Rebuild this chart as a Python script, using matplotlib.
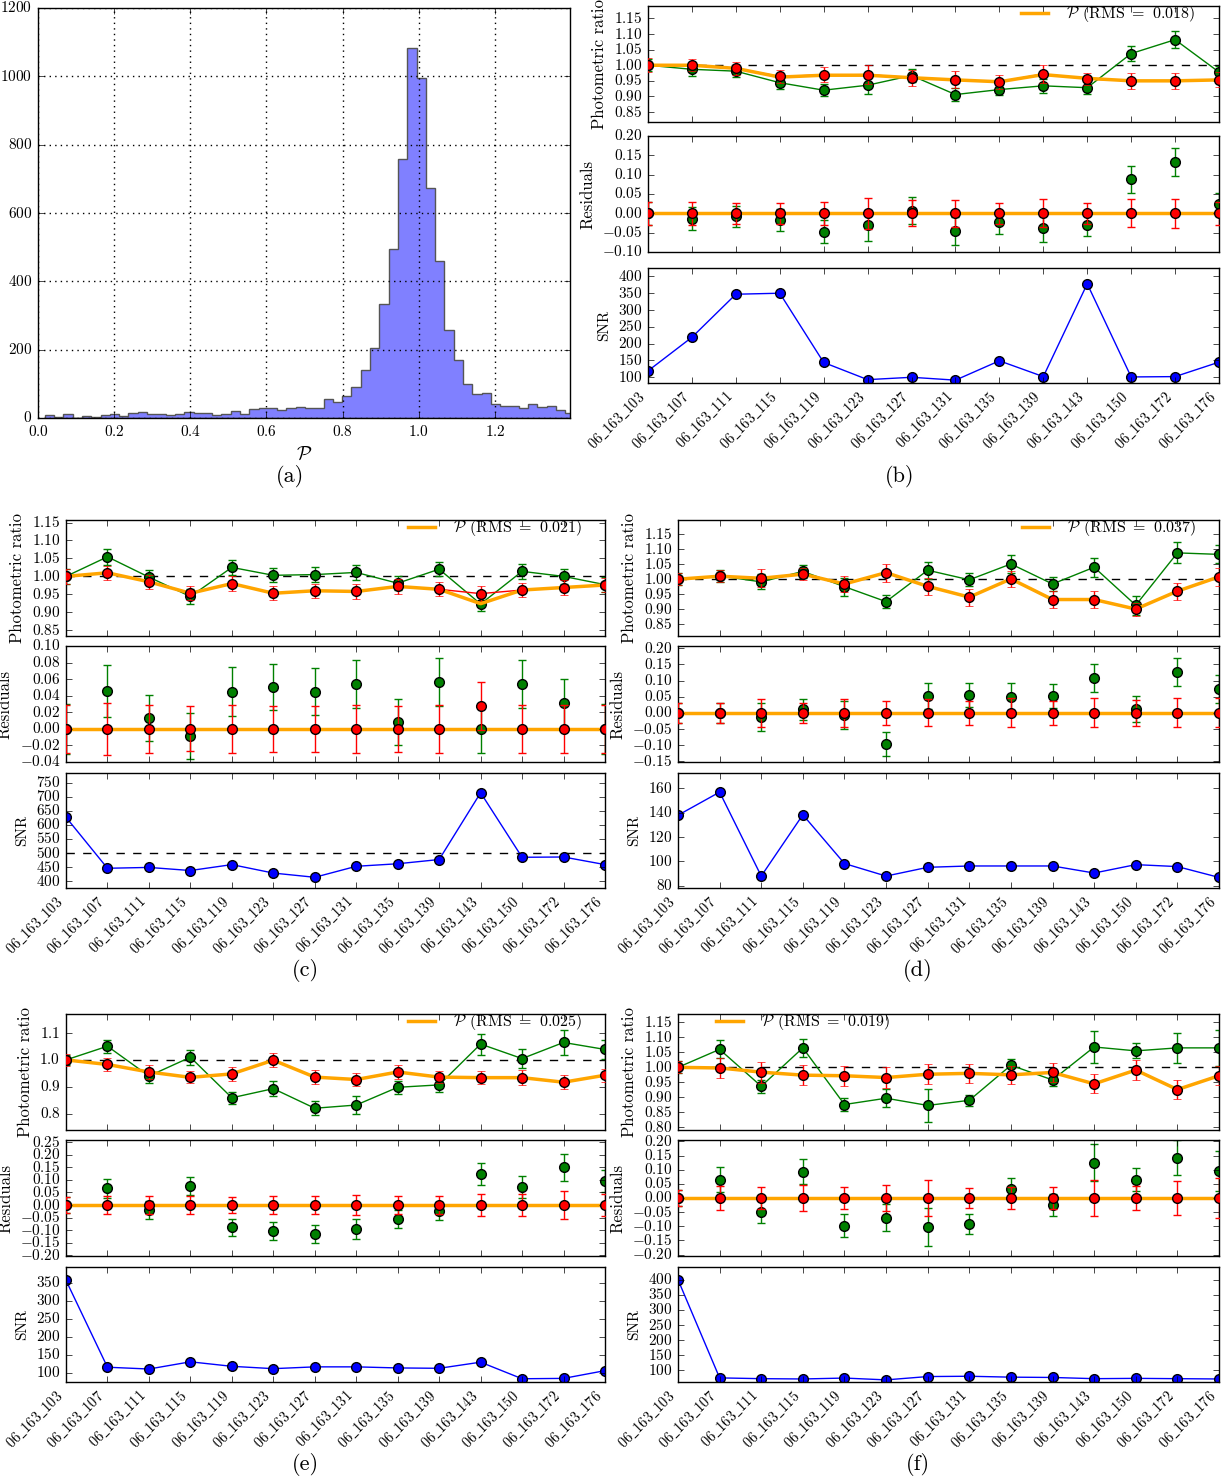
import numpy as np
import matplotlib
matplotlib.use('Agg')
import matplotlib.pyplot as plt
from matplotlib.ticker import MultipleLocator

plt.style.use('classic')
plt.rcParams['figure.facecolor'] = 'white'
plt.rcParams['savefig.facecolor'] = 'white'
plt.rcParams['font.family'] = ['cmr10', 'DejaVu Serif']
plt.rcParams['mathtext.fontset'] = 'cm'
plt.rcParams['axes.formatter.use_mathtext'] = True
plt.rcParams['axes.unicode_minus'] = True

# ---- data -----------------------------------------------------------------
frames = ['06_163_103', '06_163_107', '06_163_111', '06_163_115', '06_163_119',
          '06_163_123', '06_163_127', '06_163_131', '06_163_135', '06_163_139',
          '06_163_143', '06_163_150', '06_163_172', '06_163_176']

# (a) histogram of P
hist_start = 0.018
hist_width = 0.0244
hist_counts = [8, 4, 11, 1, 6, 2, 8, 13, 6, 15, 18, 13, 12, 8, 13, 19, 16, 16, 10,
               13, 21, 13, 27, 28, 29, 24, 28, 33, 28, 29, 57, 48, 64, 90, 141, 206,
               333, 494, 757, 1082, 995, 673, 460, 257, 169, 99, 69, 73, 42, 35, 35,
               29, 42, 31, 36, 24, 14]

# (b)
b_green = [1.0, 0.987, 0.981, 0.944, 0.92, 0.936, 0.967, 0.906, 0.922, 0.934, 0.928, 1.0375, 1.082, 0.978]
b_green_err = [0.02, 0.02, 0.018, 0.02, 0.02, 0.028, 0.022, 0.02, 0.018, 0.022, 0.02, 0.023, 0.027, 0.02]
b_red = [1.0, 1.0, 0.99, 0.964, 0.969, 0.97, 0.96, 0.954, 0.947, 0.972, 0.956, 0.95, 0.95, 0.953]
b_red_err = [0.022, 0.02, 0.02, 0.02, 0.024, 0.03, 0.025, 0.026, 0.022, 0.028, 0.02, 0.026, 0.026, 0.024]
b_p = [1.0, 1.0, 0.99, 0.962, 0.968, 0.968, 0.96, 0.953, 0.947, 0.97, 0.958, 0.95, 0.95, 0.953]
b_res_green = [0.0, -0.014, -0.008, -0.018, -0.048, -0.031, 0.007, -0.046, -0.023, -0.037, -0.03, 0.0875, 0.133, 0.023]
b_res_green_err = [0.03, 0.03, 0.028, 0.028, 0.03, 0.04, 0.034, 0.036, 0.03, 0.037, 0.029, 0.035, 0.037, 0.03]
b_res_red = [0.0, 0.0, 0.0, 0.0, 0.0, 0.0, 0.0, 0.0, 0.0, 0.0, 0.0, 0.0, 0.0, 0.0]
b_res_red_err = [0.03, 0.03, 0.028, 0.028, 0.03, 0.04, 0.034, 0.035, 0.028, 0.036, 0.028, 0.036, 0.038, 0.03]
b_snr = [119, 219, 347, 350, 144, 93, 100, 91.5, 149, 102, 378, 101, 102, 145]
b_rms = 0.018

# (c)
c_green = [1.0, 1.0545, 0.998, 0.944, 1.025, 1.003, 1.005, 1.011, 0.981, 1.02, 0.923, 1.014, 1.0, 0.977]
c_green_err = [0.02, 0.022, 0.02, 0.02, 0.02, 0.02, 0.02, 0.02, 0.02, 0.02, 0.02, 0.02, 0.02, 0.02]
c_red = [1.0, 1.01, 0.985, 0.953, 0.98, 0.953, 0.96, 0.958, 0.972, 0.964, 0.952, 0.962, 0.969, 0.976]
c_red_err = [0.02, 0.02, 0.02, 0.02, 0.02, 0.02, 0.02, 0.02, 0.02, 0.02, 0.02, 0.02, 0.02, 0.02]
c_p = [1.0, 1.01, 0.985, 0.953, 0.98, 0.953, 0.96, 0.958, 0.972, 0.964, 0.924, 0.962, 0.969, 0.976]
c_res_green = [0.0, 0.0456, 0.0133, -0.0089, 0.045, 0.0504, 0.045, 0.054, 0.0085, 0.057, 0.0, 0.0536, 0.031, 0.0]
c_res_green_err = [0.03, 0.031, 0.028, 0.028, 0.03, 0.028, 0.028, 0.029, 0.028, 0.029, 0.029, 0.029, 0.029, 0.03]
c_res_red = [0.0, 0.0, 0.0, 0.0, 0.0, 0.0, 0.0, 0.0, 0.0, 0.0, 0.028, 0.0, 0.0, 0.0]
c_res_red_err = [0.029, 0.031, 0.029, 0.027, 0.029, 0.028, 0.028, 0.029, 0.028, 0.029, 0.029, 0.029, 0.029, 0.029]
c_snr = [627, 446, 449, 438, 459, 429, 414, 453, 462, 477, 714, 485, 486, 459]
c_rms = 0.021

# (d)
d_green = [1.0, 1.011, 0.991, 1.026, 0.975, 0.925, 1.03, 0.998, 1.051, 0.984, 1.04, 0.913, 1.088, 1.083]
d_green_err = [0.02, 0.02, 0.025, 0.022, 0.03, 0.022, 0.028, 0.022, 0.03, 0.022, 0.032, 0.032, 0.035, 0.03]
d_red = [1.0, 1.01, 1.003, 1.017, 0.984, 1.022, 0.976, 0.94, 1.001, 0.932, 0.932, 0.90, 0.96, 1.008]
d_red_err = [0.02, 0.02, 0.03, 0.02, 0.028, 0.03, 0.028, 0.028, 0.028, 0.028, 0.028, 0.022, 0.028, 0.03]
d_p = [1.0, 1.01, 1.003, 1.017, 0.984, 1.022, 0.976, 0.94, 1.001, 0.932, 0.932, 0.90, 0.96, 1.008]
d_res_green = [0.0, 0.0, -0.013, 0.011, -0.007, -0.096, 0.052, 0.055, 0.05, 0.052, 0.109, 0.013, 0.127, 0.074]
d_res_green_err = [0.03, 0.03, 0.043, 0.032, 0.043, 0.037, 0.04, 0.038, 0.042, 0.036, 0.043, 0.04, 0.044, 0.042]
d_res_red = [0.0, 0.0, 0.0, 0.0, 0.0, 0.0, 0.0, 0.0, 0.0, 0.0, 0.0, 0.0, 0.0, 0.0]
d_res_red_err = [0.03, 0.032, 0.043, 0.032, 0.043, 0.038, 0.042, 0.038, 0.045, 0.036, 0.045, 0.04, 0.045, 0.045]
d_snr = [138, 157, 88, 138.4, 98.3, 88, 95.2, 96.3, 96.3, 96.3, 90.5, 97.4, 95.8, 86.9]
d_rms = 0.037

# (e)
e_green = [1.0, 1.051, 0.94, 1.01, 0.859, 0.893, 0.82, 0.832, 0.898, 0.907, 1.059, 1.005, 1.065, 1.039]
e_green_err = [0.02, 0.025, 0.025, 0.028, 0.022, 0.028, 0.026, 0.033, 0.024, 0.027, 0.039, 0.035, 0.046, 0.035]
e_red = [1.0, 0.983, 0.955, 0.935, 0.948, 0.999, 0.936, 0.927, 0.955, 0.936, 0.934, 0.934, 0.917, 0.943]
e_red_err = [0.022, 0.025, 0.025, 0.022, 0.025, 0.027, 0.025, 0.023, 0.025, 0.023, 0.023, 0.028, 0.027, 0.025]
e_p = [1.0, 0.983, 0.955, 0.935, 0.948, 0.999, 0.936, 0.927, 0.955, 0.936, 0.934, 0.934, 0.917, 0.943]
e_res_green = [0.0, 0.066, -0.0185, 0.075, -0.0886, -0.103, -0.116, -0.094, -0.0556, -0.025, 0.123, 0.071, 0.149, 0.095]
e_res_green_err = [0.03, 0.037, 0.035, 0.037, 0.033, 0.037, 0.035, 0.04, 0.035, 0.036, 0.045, 0.044, 0.054, 0.045]
e_res_red = [0.0, 0.0, 0.0, 0.0, 0.0, 0.0, 0.0, 0.0, 0.0, 0.0, 0.0, 0.0, 0.0, 0.0]
e_res_red_err = [0.03, 0.037, 0.035, 0.037, 0.033, 0.037, 0.035, 0.04, 0.035, 0.036, 0.045, 0.044, 0.054, 0.045]
e_snr = [357, 116, 111, 131, 118.5, 112, 117, 117, 114, 113, 130, 84, 85, 106.5]
e_rms = 0.025

# (f)
f_green = [1.0, 1.06, 0.937, 1.065, 0.876, 0.897, 0.873, 0.89, 1.007, 0.958, 1.068, 1.055, 1.065, 1.065]
f_green_err = [0.02, 0.03, 0.022, 0.03, 0.022, 0.03, 0.055, 0.018, 0.022, 0.02, 0.052, 0.025, 0.05, 0.06]
f_red = [1.0, 0.998, 0.984, 0.974, 0.972, 0.966, 0.977, 0.98, 0.975, 0.983, 0.945, 0.991, 0.926, 0.972]
f_red_err = [0.02, 0.033, 0.035, 0.033, 0.033, 0.035, 0.033, 0.032, 0.03, 0.033, 0.032, 0.033, 0.032, 0.032]
f_p = [1.0, 0.998, 0.984, 0.974, 0.972, 0.966, 0.977, 0.98, 0.975, 0.983, 0.945, 0.991, 0.926, 0.972]
f_res_green = [0.0, 0.064, -0.048, 0.093, -0.098, -0.069, -0.104, -0.092, 0.032, -0.025, 0.125, 0.065, 0.142, 0.095]
f_res_green_err = [0.03, 0.044, 0.042, 0.045, 0.04, 0.047, 0.067, 0.037, 0.04, 0.038, 0.065, 0.042, 0.062, 0.07]
f_res_red = [0.0, 0.0, 0.0, 0.0, 0.0, 0.0, 0.0, 0.0, 0.0, 0.0, 0.0, 0.0, 0.0, 0.0]
f_res_red_err = [0.03, 0.044, 0.04, 0.045, 0.04, 0.047, 0.063, 0.037, 0.04, 0.038, 0.062, 0.042, 0.06, 0.07]
f_snr = [400, 75.6, 73, 72, 75, 69, 80, 81, 78, 77, 73, 74, 73, 72]
f_rms = 0.019

# ---- figure ---------------------------------------------------------------
W, H = 1231, 1483
fig = plt.figure(figsize=(W / 100.0, H / 100.0), dpi=100)


def box(x0, y0, x1, y1):
    return [x0 / W, 1 - y1 / H, (x1 - x0) / W, (y1 - y0) / H]


def frame_label(name):
    # cmr10 has a dot accent where the underscore is, take it from cmtt10
    return name.replace('_', r'$\mathtt{\_}$')


TICK = 11
MS = 7

# (a)
ax = fig.add_axes(box(38, 8, 570, 418))
edges = hist_start + hist_width * np.arange(len(hist_counts) + 1)
ax.hist(edges[:-1], bins=edges, weights=hist_counts, histtype='stepfilled',
        facecolor='#8080ff', edgecolor='#555555', lw=1)
ax.set_xlim(0, 1.397)
ax.set_ylim(0, 1200)
ax.xaxis.set_major_locator(MultipleLocator(0.2))
ax.yaxis.set_major_locator(MultipleLocator(200))
ax.grid(True, color='k', ls=':', lw=1)
ax.set_axisbelow(False)
ax.tick_params(labelsize=TICK)
ax.set_xlabel(r'$\mathcal{P}$', fontsize=14)
fig.text(290 / W, 1 - 476 / H, '(a)', ha='center', va='center', fontsize=16)


def panel(x0, x1, ys, green, green_err, red, red_err, p, rg, rg_err, rr, rr_err,
          snr, rms, label, label_xy, lims, steps, legend_loc, snr_ref=None):
    x = np.arange(len(frames))
    ax1 = fig.add_axes(box(x0, ys[0], x1, ys[0] + 116))
    ax2 = fig.add_axes(box(x0, ys[1], x1, ys[1] + 116))
    ax3 = fig.add_axes(box(x0, ys[2], x1, ys[2] + 115))

    ax1.axhline(1.0, color='k', ls='--', lw=1, zorder=1)
    ax1.errorbar(x, green, yerr=green_err, fmt='-o', color='g', mfc='g', mec='k',
                 mew=1, ms=MS, lw=1, capsize=3, zorder=2)
    ax1.errorbar(x, red, yerr=red_err, fmt='-', color='r', lw=1, capsize=3, zorder=3)
    ax1.plot(x, p, color='orange', lw=2.5, zorder=4,
             label=r'$\mathcal{P}$ (RMS $=$ %.3f)' % rms)
    ax1.plot(x, red, 'o', mfc='r', mec='k', mew=1, ms=MS, zorder=5)
    ax1.set_ylim(*lims[0])
    ax1.yaxis.set_major_locator(MultipleLocator(steps[0]))
    ax1.set_ylabel('Photometric ratio', fontsize=12)
    if legend_loc == 'right':
        ax1.legend(loc='upper right', bbox_to_anchor=(0.97, 1.07), frameon=False,
                   fontsize=11.5, handlelength=2.3, borderaxespad=0)
    else:
        ax1.legend(loc='upper left', bbox_to_anchor=(0.05, 1.07), frameon=False,
                   fontsize=11.5, handlelength=2.3, borderaxespad=0)

    ax2.axhline(0.0, color='orange', lw=2.5, zorder=1)
    ax2.errorbar(x, rg, yerr=rg_err, fmt='o', color='g', mfc='g', mec='k', mew=1,
                 ms=MS, capsize=3, zorder=2)
    ax2.errorbar(x, rr, yerr=rr_err, fmt='o', color='r', mfc='r', mec='k', mew=1,
                 ms=MS, capsize=3, zorder=3)
    ax2.set_ylim(*lims[1])
    ax2.yaxis.set_major_locator(MultipleLocator(steps[1]))
    ax2.set_ylabel('Residuals', fontsize=12)

    if snr_ref is not None:
        ax3.axhline(snr_ref, color='k', ls='--', lw=1, zorder=1)
    ax3.plot(x, snr, 'o-', color='b', mfc='b', mec='k', mew=1, ms=MS, lw=1, zorder=2)
    ax3.set_ylim(*lims[2])
    ax3.yaxis.set_major_locator(MultipleLocator(steps[2]))
    ax3.set_ylabel('SNR', fontsize=11)

    for a in (ax1, ax2, ax3):
        a.set_xlim(0, len(frames) - 1)
        a.set_xticks(x)
        a.tick_params(labelsize=TICK)
    ax1.set_xticklabels([])
    ax2.set_xticklabels([])
    ax3.set_xticklabels([frame_label(f) for f in frames], rotation=45, ha='right',
                        fontsize=10.3)
    fig.text(label_xy[0] / W, 1 - label_xy[1] / H, label,
             ha='center', va='center', fontsize=16)


panel(648, 1219, (6, 136, 268), b_green, b_green_err, b_red, b_red_err, b_p,
      b_res_green, b_res_green_err, b_res_red, b_res_red_err, b_snr, b_rms,
      '(b)', (900, 476),
      ((0.818, 1.19), (-0.10, 0.20), (83, 425)), (0.05, 0.05, 50), 'right')
panel(66, 605, (520, 646, 773), c_green, c_green_err, c_red, c_red_err, c_p,
      c_res_green, c_res_green_err, c_res_red, c_res_red_err, c_snr, c_rms,
      '(c)', (305, 970),
      ((0.834, 1.157), (-0.04, 0.10), (376, 784)), (0.05, 0.02, 50), 'right',
      snr_ref=500)
panel(678, 1219, (520, 646, 773), d_green, d_green_err, d_red, d_red_err, d_p,
      d_res_green, d_res_green_err, d_res_red, d_res_red_err, d_snr, d_rms,
      '(d)', (918, 970),
      ((0.81, 1.198), (-0.152, 0.207), (78.2, 172.7)), (0.05, 0.05, 20), 'right')
panel(66, 605, (1014, 1140, 1267), e_green, e_green_err, e_red, e_red_err, e_p,
      e_res_green, e_res_green_err, e_res_red, e_res_red_err, e_snr, e_rms,
      '(e)', (305, 1465),
      ((0.739, 1.171), (-0.202, 0.258), (75, 394)), (0.1, 0.05, 50), 'right')
panel(678, 1219, (1014, 1140, 1267), f_green, f_green_err, f_red, f_red_err, f_p,
      f_res_green, f_res_green_err, f_res_red, f_res_red_err, f_snr, f_rms,
      '(f)', (918, 1465),
      ((0.791, 1.178), (-0.205, 0.205), (62, 442)), (0.05, 0.05, 50), 'left')

fig.savefig('out.png', dpi=100)
